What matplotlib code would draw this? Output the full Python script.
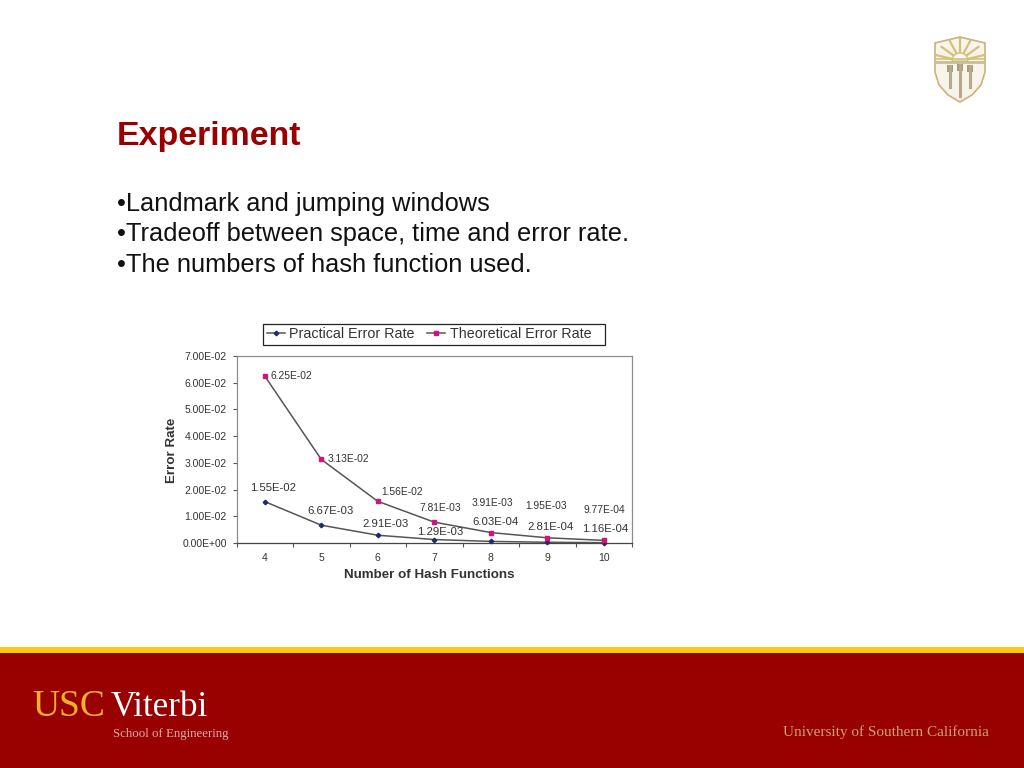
import numpy as np
import matplotlib
matplotlib.use("Agg")
import matplotlib.pyplot as plt
from matplotlib.patches import Rectangle, Polygon, Wedge

plt.rcParams['font.family'] = ['Liberation Sans', 'DejaVu Sans']

# ---- data ----
hash_functions = [4, 5, 6, 7, 8, 9, 10]
practical = [1.55e-2, 6.67e-3, 2.91e-3, 1.29e-3, 6.03e-4, 2.81e-4, 1.16e-4]
theoretical = [6.25e-2, 3.13e-2, 1.56e-2, 7.81e-3, 3.91e-3, 1.95e-3, 9.77e-4]
practical_labels = ["1.55E-02", "6.67E-03", "2.91E-03", "1.29E-03", "6.03E-04", "2.81E-04", "1.16E-04"]
theoretical_labels = ["6.25E-02", "3.13E-02", "1.56E-02", "7.81E-03", "3.91E-03", "1.95E-03", "9.77E-04"]
y_ticks = [0, 0.01, 0.02, 0.03, 0.04, 0.05, 0.06, 0.07]
bullets = ["•Landmark and jumping windows",
           "•Tradeoff between space, time and error rate.",
           "•The numbers of hash function used."]

# label offsets in pixels (dx, dy up)
practical_offsets = [(8, 14), (9, 14), (8, 11), (6, 8), (5, 19), (3, 15), (1, 14)]
theoretical_offsets = [(27, 0), (27, 0), (24, 9), (6, 14), (2, 30), (-1, 32), (1, 30)]

W, H = 1024, 768
RED = "#990000"
fig = plt.figure(figsize=(W / 100, H / 100), dpi=100, facecolor="white")

# ---- slide background layer, in pixel coordinates ----
bg = fig.add_axes([0, 0, 1, 1], zorder=0)
bg.set_xlim(0, W)
bg.set_ylim(H, 0)
bg.axis("off")
bg.add_patch(Rectangle((0, 646.5), W, 6, fc="#FFC90A", ec="none"))
bg.add_patch(Rectangle((0, 652.5), W, 116, fc=RED, ec="none"))
bg.add_patch(Rectangle((0, 652.5), W, 2, fc="#7E0A08", ec="none"))

bg.text(117, 136.5, "Experiment", color=RED, fontsize=24.4, fontweight="bold", va="center", ha="left")
for i, line in enumerate(bullets):
    bg.text(117, 203.5 + i * 31, line, color="#111111", fontsize=18.25, va="center", ha="left")

# footer wordmarks
bg.text(32, 707, "USC", color="#F2B02C", family="Liberation Serif", fontsize=27, va="center", ha="left")
bg.text(111, 708, "Viterbi", color="white", family="Liberation Serif", fontsize=25.2, va="center", ha="left")
bg.text(113, 734.5, "School of Engineering", color="#D9B0A8", family="Liberation Serif", fontsize=9.3, va="center", ha="left")
bg.text(783, 732, "University of Southern California", color="#CFA070", family="Liberation Serif", fontsize=11, va="center", ha="left")

# shield logo
shield = [(935, 43), (960, 37), (985, 43), (985, 72), (981, 85), (972, 95), (960, 102),
          (948, 95), (939, 85), (935, 72)]
bg.add_patch(Polygon(shield, closed=True, fc="#F7F4EA", ec="#C9B27C", lw=1.2))
for a in np.arange(15, 170, 25):
    r = np.deg2rad(a)
    bg.plot([960 + 9 * np.cos(r), 960 + 24 * np.cos(r)],
            [61 - 9 * np.sin(r), 61 - 22 * np.sin(r)], color="#D8BE78", lw=1.6)
bg.add_patch(Wedge((960, 61), 8, 180, 360, fc="white", ec="#D8BE78", lw=1))
bg.plot([936, 984], [62, 62], color="#C8BC9C", lw=2)
bg.plot([936, 984], [59, 59], color="#D8BE78", lw=1.2)
for cx, top, bot in [(950, 66, 87), (960, 65, 96), (970, 66, 87)]:
    bg.plot([cx, cx], [top, bot], color="#B5A98A", lw=2.2)
    bg.add_patch(Rectangle((cx - 3, top - 1), 6, 7, fc="#A89C7C", ec="none"))

# legend box
bg.add_patch(Rectangle((262.5, 324), 342.5, 21, fc="white", ec="#222222", lw=0.9))

# ---- chart ----
x0, x1, ytop, ybot = 236.5, 632, 356, 543
ax = fig.add_axes([x0 / W, 1 - ybot / H, (x1 - x0) / W, (ybot - ytop) / H], zorder=2)
ax.set_xlim(3.5, 10.5)
ax.set_ylim(0, 0.07)
ax.patch.set_alpha(0)
for s in ax.spines.values():
    s.set_color("#8C8C8C")
    s.set_linewidth(0.9)
ax.spines["bottom"].set_color("#444444")

line_p, = ax.plot(hash_functions, practical, color="#555555", lw=1.1, marker="D", ms=2.3,
                  mfc="#1F2A70", mec="#1F2A70", label="Practical Error Rate", clip_on=False, zorder=3)
line_t, = ax.plot(hash_functions, theoretical, color="#555555", lw=1.1, marker="s", ms=3,
                  mfc="#D6127A", mec="#D6127A", label="Theoretical Error Rate", clip_on=False, zorder=4)

ax.set_yticks(y_ticks)
ax.set_yticklabels([f"{v:.2E}" for v in y_ticks], fontsize=7.5, color="#333333")
ax.set_xticks(np.arange(3.5, 11, 1))
ax.set_xticklabels([])
ax.set_xticks(hash_functions, minor=True)
ax.set_xticklabels([str(v) for v in hash_functions], minor=True, fontsize=7.5, color="#333333")
ax.tick_params(axis="x", which="major", length=3, width=0.8, color="#555555")
ax.tick_params(axis="x", which="minor", length=0, pad=7)
ax.tick_params(axis="y", length=3, width=0.8, color="#555555", pad=4)

ax.set_xlabel("Number of Hash Functions", fontsize=9.6, fontweight="bold", color="#333333")
ax.xaxis.set_label_coords((429 - x0) / (x1 - x0), -(574.5 - ybot) / (ybot - ytop))
ax.xaxis.label.set_va("center")
ax.set_ylabel("Error Rate", fontsize=9.6, fontweight="bold", color="#333333")
ax.yaxis.set_label_coords((172 - x0) / (x1 - x0), (ybot - 450) / (ybot - ytop))
ax.yaxis.label.set_va("center")

px = 72 / 100
for xv, yv, s, (dx, dy) in zip(hash_functions, practical, practical_labels, practical_offsets):
    ax.annotate(s, (xv, yv), xytext=(dx * px, dy * px), textcoords="offset points",
                ha="center", va="center", fontsize=8.2, color="#333333", zorder=5)
for xv, yv, s, (dx, dy) in zip(hash_functions, theoretical, theoretical_labels, theoretical_offsets):
    ax.annotate(s, (xv, yv), xytext=(dx * px, dy * px), textcoords="offset points",
                ha="center", va="center", fontsize=7.4, color="#333333", zorder=5)

leg = ax.legend(handles=[line_p, line_t], ncols=2, loc="center left",
                bbox_to_anchor=(262.5 / W, 1 - 334 / H),
                bbox_transform=fig.transFigure, frameon=False,
                borderpad=0.3, handlelength=1.25, handletextpad=0.3,
                columnspacing=0.9, borderaxespad=0,
                prop={"size": 10.3, "weight": "normal"})
for t in leg.get_texts():
    t.set_color("#333333")

fig.savefig("out.png", dpi=100, facecolor="white")
